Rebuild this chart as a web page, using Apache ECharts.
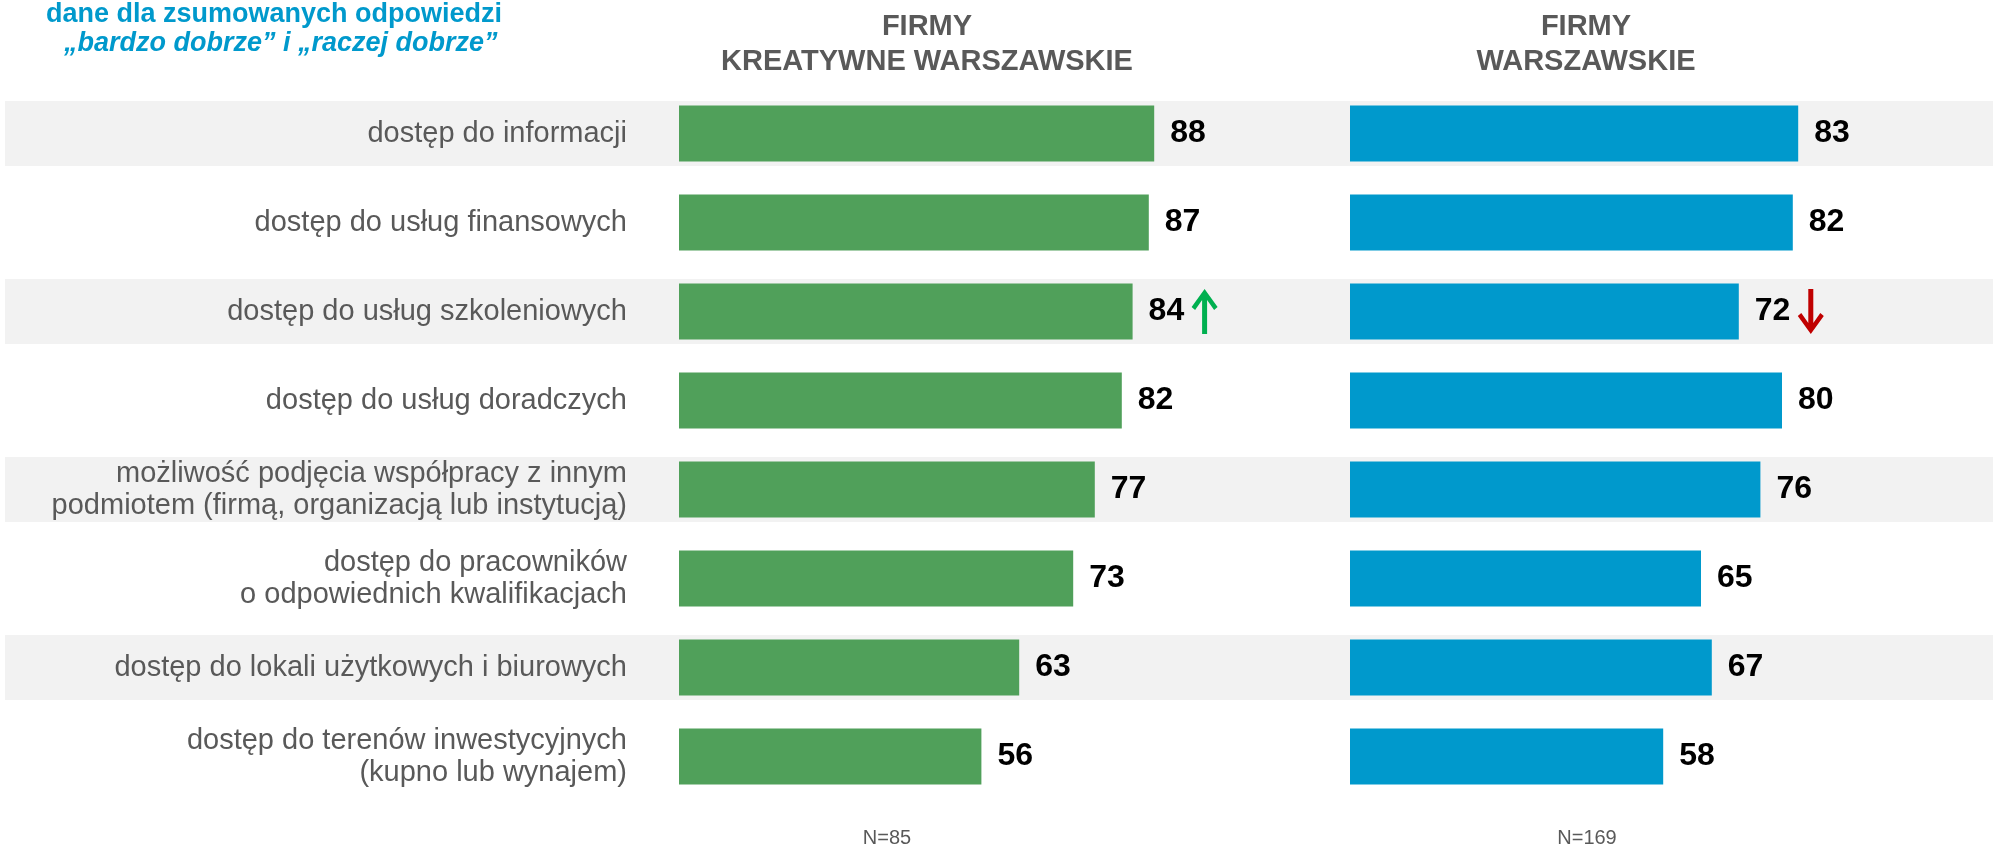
<!DOCTYPE html>
<html>
<head>
<meta charset="utf-8">
<script src="https://cdn.jsdelivr.net/npm/echarts@6/dist/echarts.min.js"></script>
<style>
  html, body { margin: 0; padding: 0; background: #fff; }
  #chart { width: 1993px; height: 845px; }
</style>
</head>
<body>
<div id="chart"></div>
<script>
// kategorie (od góry)
var categories = [
    'dostęp do informacji',
    'dostęp do usług finansowych',
    'dostęp do usług szkoleniowych',
    'dostęp do usług doradczych',
    'możliwość podjęcia współpracy z innym\npodmiotem (firmą, organizacją lub instytucją)',
    'dostęp do pracowników\no odpowiednich kwalifikacjach',
    'dostęp do lokali użytkowych i biurowych',
    'dostęp do terenów inwestycyjnych\n(kupno lub wynajem)'
];

// % odpowiedzi "bardzo dobrze" + "raczej dobrze"
var kreatywne = [88, 87, 84, 82, 77, 73, 63, 56];
var warszawskie = [83, 82, 72, 80, 76, 65, 67, 58];

// strzałki istotnych różnic
var trendKreatywne = [null, null, 'up', null, null, null, null, null];
var trendWarszawskie = [null, null, 'down', null, null, null, null, null];

var FONT = '"Liberation Sans", Arial, sans-serif';
var upPath = 'path://M12,0 L25,18 L21.5,21 L14.5,11 L14.5,45 L9.5,45 L9.5,11 L2.5,21 L-1,18 Z';
var downPath = 'path://M12,45 L25,27 L21.5,24 L14.5,34 L14.5,0 L9.5,0 L9.5,34 L2.5,24 L-1,27 Z';

function arrows(trend, values) {
    var out = [];
    trend.forEach(function (t, i) {
        if (!t) return;
        out.push({
            coord: [values[i], categories[i]],
            symbol: t === 'up' ? upPath : downPath,
            symbolSize: [26, 45],
            symbolOffset: [72, 0],
            itemStyle: { color: t === 'up' ? '#00b050' : '#c00000' },
            label: { show: false }
        });
    });
    return out;
}

// paski tła co drugi wiersz
var bandData = categories.map(function (c, i) { return i % 2 === 0 ? 1 : 0; });

var myChart = echarts.init(document.getElementById('chart'));

var gridTop = 89;
var gridHeight = 712;

function headText(x, y, text) {
    return {
        type: 'text', x: x, y: y,
        style: { text: text, fill: '#595959', font: 'bold 29px ' + FONT, align: 'center', verticalAlign: 'middle' }
    };
}

var option = {
    backgroundColor: '#ffffff',
    animation: false,
    textStyle: { fontFamily: FONT },
    grid: [
        { left: 5, right: 0, top: gridTop, height: gridHeight },
        { left: 679, width: 540, top: gridTop, height: gridHeight },
        { left: 1350, width: 540, top: gridTop, height: gridHeight }
    ],
    xAxis: [
        { gridIndex: 0, type: 'value', min: 0, max: 1, show: false },
        { gridIndex: 1, type: 'value', min: 0, max: 100, show: false },
        { gridIndex: 2, type: 'value', min: 0, max: 100, show: false }
    ],
    yAxis: [
        { gridIndex: 0, type: 'category', data: categories, inverse: true, show: false },
        {
            gridIndex: 1, type: 'category', data: categories, inverse: true,
            axisLine: { show: false }, axisTick: { show: false },
            axisLabel: {
                margin: 52, fontSize: 29, lineHeight: 32, color: '#595959',
                fontFamily: FONT, align: 'right'
            }
        },
        { gridIndex: 2, type: 'category', data: categories, inverse: true, show: false }
    ],
    graphic: [
        { type: 'text', x: 46, y: 15, style: { text: 'dane dla zsumowanych odpowiedzi', fill: '#0099cc', font: 'bold 27px ' + FONT, verticalAlign: 'middle' } },
        { type: 'text', x: 64, y: 44, style: { text: '„bardzo dobrze” i „raczej dobrze”', fill: '#0099cc', font: 'italic bold 27px ' + FONT, verticalAlign: 'middle' } },
        headText(927, 27, 'FIRMY'),
        headText(927, 62, 'KREATYWNE WARSZAWSKIE'),
        headText(1586, 27, 'FIRMY'),
        headText(1586, 62, 'WARSZAWSKIE'),
        { type: 'text', x: 887, y: 838, style: { text: 'N=85', fill: '#595959', font: '20px ' + FONT, align: 'center', verticalAlign: 'middle' } },
        { type: 'text', x: 1587, y: 838, style: { text: 'N=169', fill: '#595959', font: '20px ' + FONT, align: 'center', verticalAlign: 'middle' } }
    ],
    series: [
        {
            type: 'bar', xAxisIndex: 0, yAxisIndex: 0, data: bandData,
            barWidth: 65, silent: true, z: 0,
            itemStyle: { color: '#f2f2f2' }
        },
        {
            name: 'FIRMY KREATYWNE WARSZAWSKIE',
            type: 'bar', xAxisIndex: 1, yAxisIndex: 1, data: kreatywne,
            barWidth: 56, z: 2,
            itemStyle: { color: '#50a05a' },
            label: {
                show: true, position: 'right', distance: 16,
                fontSize: 32, fontWeight: 'bold', color: '#000', fontFamily: FONT
            },
            markPoint: { silent: true, data: arrows(trendKreatywne, kreatywne) }
        },
        {
            name: 'FIRMY WARSZAWSKIE',
            type: 'bar', xAxisIndex: 2, yAxisIndex: 2, data: warszawskie,
            barWidth: 56, z: 2,
            itemStyle: { color: '#0099cc' },
            label: {
                show: true, position: 'right', distance: 16,
                fontSize: 32, fontWeight: 'bold', color: '#000', fontFamily: FONT
            },
            markPoint: { silent: true, data: arrows(trendWarszawskie, warszawskie) }
        }
    ]
};

myChart.setOption(option);
</script>
</body>
</html>
